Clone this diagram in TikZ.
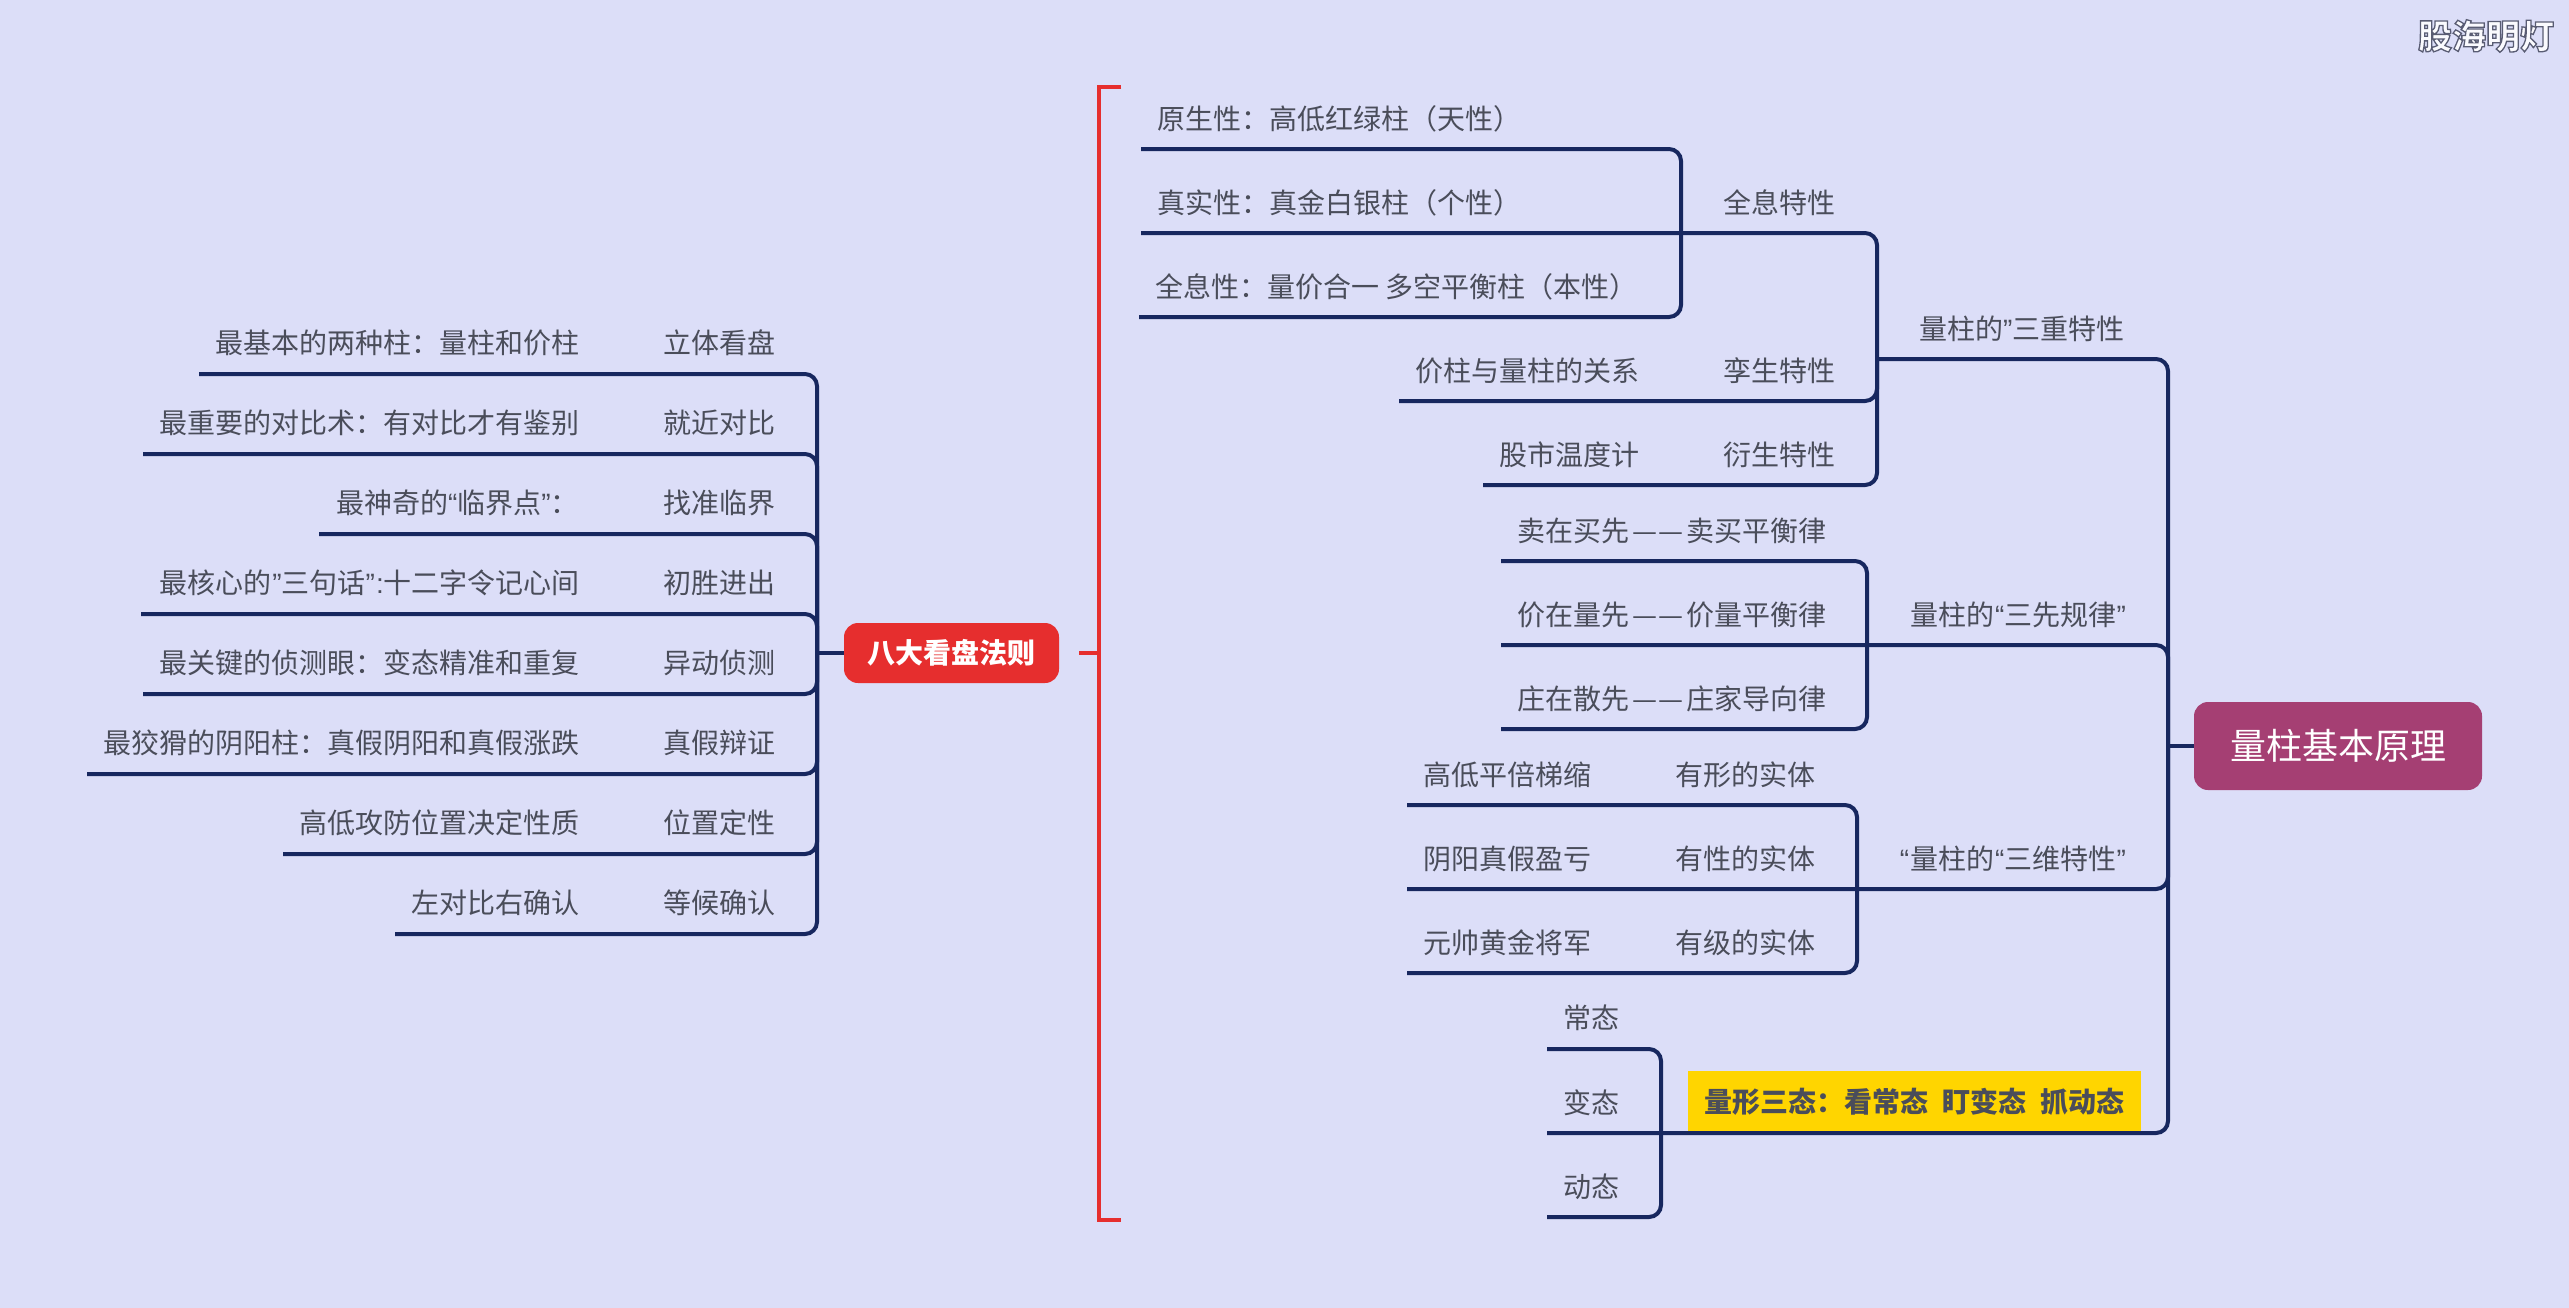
\documentclass[tikz,border=0pt]{standalone}
\usepackage{fontspec}
\setmainfont{Noto Sans CJK SC}
\newfontfamily\latinq{Liberation Sans}
\newcommand{\oq}{{\latinq “}}
\newcommand{\cq}{{\latinq ”}}
\newcommand{\cln}{{\latinq :}}
\newcommand{\dbl}{\hspace{3pt}—\hspace{1pt}—\hspace{3pt}}
\definecolor{bgc}{HTML}{DCDEF8}
\definecolor{linec}{HTML}{17275F}
\definecolor{textc}{HTML}{4A4D5A}
\definecolor{redc}{HTML}{E62E2E}
\definecolor{mainc}{HTML}{A53F73}
\definecolor{yelc}{HTML}{FFD500}
\tikzset{
  lbl/.style={inner sep=0pt,text=textc,font=\fontsize{28}{32}\selectfont,text height=24.6pt,text depth=3.4pt},
  lblw/.style={lbl,anchor=west},
  lble/.style={lbl,anchor=east},
  link/.style={draw=linec,line width=4pt,rounded corners=12pt},
  redlink/.style={draw=redc,line width=4pt},
  mainbox/.style={fill=mainc,rounded corners=14pt,minimum width=288pt,minimum height=88pt,inner sep=0pt,text=white,font=\fontsize{36}{40}\selectfont},
  redbox/.style={fill=redc,rounded corners=14pt,minimum width=215pt,minimum height=60pt,inner sep=0pt,text=white,font=\fontsize{28}{32}\selectfont\bfseries},
  yelbox/.style={fill=yelc,minimum width=453pt,minimum height=61pt,inner sep=0pt,text=textc,font=\fontsize{28}{32}\selectfont\bfseries}
}
\begin{document}
\begin{tikzpicture}[x=1pt,y=-1pt]
\path[use as bounding box] (0,0) rectangle (2569,1307);
\fill[bgc] (-5,-5) rectangle (2575,1312);

% central boxes
\node[mainbox] (main) at (2338,746) {量柱基本原理};
\node[redbox] (eight) at (951.5,653) {八大看盘法则};
\node[yelbox] (shape) at (1914.5,1101.5) {量形三态：看常态\hspace{14pt}盯变态\hspace{14pt}抓动态};

% hubs
\coordinate (root) at (2168,746);
\coordinate (hubA) at (1877,359);
\coordinate (hubB) at (1681,233);
\coordinate (hubC) at (1867,645);
\coordinate (hubD) at (1857,889);
\coordinate (hubE) at (1661,1133);
\coordinate (hubL) at (817,653);

% free ends, right side
\coordinate (a1) at (1141,149);
\coordinate (a2) at (1141,233);
\coordinate (a3) at (1139,317);
\coordinate (a4) at (1399,401);
\coordinate (a5) at (1483,485);
\coordinate (b1) at (1501,561);
\coordinate (b2) at (1501,645);
\coordinate (b3) at (1501,729);
\coordinate (c1) at (1407,805);
\coordinate (c2) at (1407,889);
\coordinate (c3) at (1407,973);
\coordinate (d1) at (1547,1049);
\coordinate (d2) at (1547,1133);
\coordinate (d3) at (1547,1217);

% free ends, left side
\coordinate (l1) at (199,374);
\coordinate (l2) at (143,454);
\coordinate (l3) at (319,534);
\coordinate (l4) at (141,614);
\coordinate (l5) at (143,694);
\coordinate (l6) at (87,774);
\coordinate (l7) at (283,854);
\coordinate (l8) at (395,934);

% red bracket
\coordinate (rt) at (1121,87);
\coordinate (rtc) at (1099,87);
\coordinate (rb) at (1121,1220);
\coordinate (rbc) at (1099,1220);
\coordinate (rhub) at (1099,653);
\coordinate (rstub) at (1079,653);

% connectors
\draw[link] (a1) -| (hubB);
\draw[link] (a3) -| (hubB);
\draw[link] (a2) -| (hubA);
\draw[link] (a4) -| (hubA);
\draw[link] (a5) -| (hubA);
\draw[link] (hubA) -| (root);
\draw[link] (b1) -| (hubC);
\draw[link] (b3) -| (hubC);
\draw[link] (b2) -| (root);
\draw[link] (c1) -| (hubD);
\draw[link] (c3) -| (hubD);
\draw[link] (c2) -| (root);
\draw[link] (d1) -| (hubE);
\draw[link] (d3) -| (hubE);
\draw[link] (d2) -| (root);
\draw[link] (root) -- (main.west);
\foreach \n in {l1,l2,l3,l4,l5,l6,l7,l8} \draw[link] (\n) -| (hubL);
\draw[link] (hubL) -- (eight.west);
\draw[redlink,line cap=butt] (rt) -- (rtc) -- (rbc) -- (rb);
\draw[redlink] (rstub) -- (rhub);

% right labels
\node[lblw] (t01) at (1157,119) {原生性：高低红绿柱（天性）};
\node[lblw] (t02) at (1157,203) {真实性：真金白银柱（个性）};
\node[lblw] (t03) at (1155,287) {全息性：量价合一 多空平衡柱（本性）};
\node[lblw] (t04) at (1723,203) {全息特性};
\node[lble] (t05) at (1640,371) {价柱与量柱的关系};
\node[lblw] (t06) at (1723,371) {孪生特性};
\node[lble] (t07) at (1640,455) {股市温度计};
\node[lblw] (t08) at (1723,455) {衍生特性};
\node[lblw] (t09) at (1919,329) {量柱的\cq 三重特性};
\node[lblw] (t10) at (1517,531) {卖在买先\dbl 卖买平衡律};
\node[lblw] (t11) at (1517,615) {价在量先\dbl 价量平衡律};
\node[lblw] (t12) at (1517,699) {庄在散先\dbl 庄家导向律};
\node[lble] (t13) at (2126,615) {量柱的\hspace{1pt}\oq 三先规律\cq};
\node[lblw] (t14) at (1423,775) {高低平倍梯缩};
\node[lblw] (t15) at (1423,859) {阴阳真假盈亏};
\node[lblw] (t16) at (1423,943) {元帅黄金将军};
\node[lblw] (t17) at (1675,775) {有形的实体};
\node[lblw] (t18) at (1675,859) {有性的实体};
\node[lblw] (t19) at (1675,943) {有级的实体};
\node[lble] (t20) at (2126,859) {\oq\hspace{1pt}量柱的\hspace{1pt}\oq 三维特性\cq};
\node[lblw] (t21) at (1563,1018) {常态};
\node[lblw] (t22) at (1563,1103) {变态};
\node[lblw] (t23) at (1563,1187) {动态};

% left labels
\node[lble] (u1) at (580,343) {最基本的两种柱：量柱和价柱};
\node[lble] (u2) at (580,423) {最重要的对比术：有对比才有鉴别};
\node[lble] (u3) at (579,503) {最神奇的\oq 临界点\cq ：};
\node[lble] (u4) at (580,583) {最核心的\hspace{1pt}\cq 三句话\cq\hspace{1pt}\cln 十二字令记心间};
\node[lble] (u5) at (580,663) {最关键的侦测眼：变态精准和重复};
\node[lble] (u6) at (580,743) {最狡猾的阴阳柱：真假阴阳和真假涨跌};
\node[lble] (u7) at (580,823) {高低攻防位置决定性质};
\node[lble] (u8) at (580,903) {左对比右确认};
\node[lblw] (v1) at (663,343) {立体看盘};
\node[lblw] (v2) at (663,423) {就近对比};
\node[lblw] (v3) at (663,503) {找准临界};
\node[lblw] (v4) at (663,583) {初胜进出};
\node[lblw] (v5) at (663,663) {异动侦测};
\node[lblw] (v6) at (663,743) {真假辩证};
\node[lblw] (v7) at (663,823) {位置定性};
\node[lblw] (v8) at (663,903) {等候确认};

% watermark
\node[inner sep=0pt,text=white!85!bgc,font=\fontsize{34}{36}\selectfont\bfseries] (wm) at (2486,36)
  {\special{pdf:code q 2 Tr 0.35 0.36 0.45 RG 1.3 w}股海明灯\special{pdf:code Q}};
\end{tikzpicture}
\end{document}
